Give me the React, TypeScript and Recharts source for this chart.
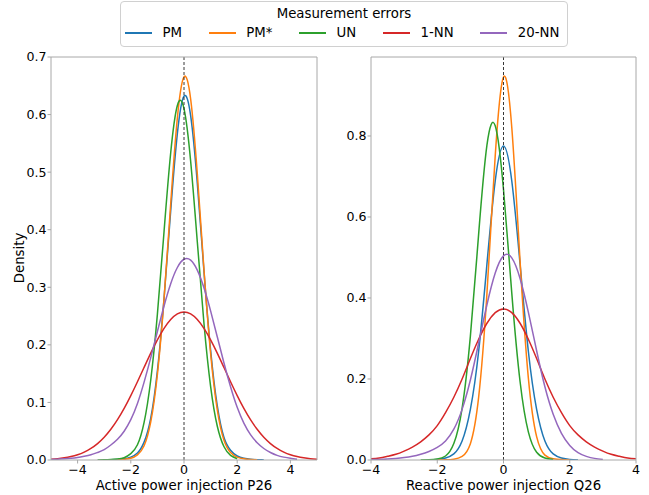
import React from 'react';
import { LineChart, Line, XAxis, YAxis, ReferenceLine } from 'recharts';

const N = null;

const seriesNames = ['PM', 'PM*', 'UN', '1-NN', '20-NN'];
const seriesKeys = ['pm', 'pmStar', 'un', 'nn1', 'nn20'];
const seriesColors = ['#1f77b4', '#ff7f0e', '#2ca02c', '#d62728', '#9467bd'];

const leftX = [-5, -4.75, -4.5, -4.25, -4, -3.75, -3.5, -3.25, -3, -2.75, -2.5, -2.25, -2, -1.75, -1.5, -1.25, -1, -0.75, -0.5, -0.25, 0, 0.25, 0.5, 0.75, 1, 1.25, 1.5, 1.75, 2, 2.25, 2.5, 2.75, 3, 3.25, 3.5, 3.75, 4, 4.25, 4.5, 4.75, 5];
const pmLeft = [N, N, N, N, N, N, N, N, 0.0002, 0.0005, 0.001, 0.002, 0.005, 0.012, 0.031, 0.0727, 0.155, 0.281, 0.433, 0.567, 0.632, 0.598, 0.481, 0.328, 0.191, 0.0943, 0.0396, 0.017, 0.007, 0.003, 0.0012, 0.0005, 0.0002, N, N, N, N, N, N, N, N];
const pmStarLeft = [N, N, N, N, N, N, N, N, 0.0001, 0.0002, 0.0005, 0.0012, 0.003, 0.009, 0.0248, 0.0662, 0.1485, 0.28, 0.445, 0.594, 0.6655, 0.627, 0.497, 0.331, 0.1854, 0.0874, 0.0346, 0.013, 0.005, 0.002, 0.0008, 0.0003, N, N, N, N, N, N, N, N, N];
const unLeft = [N, N, N, N, N, N, N, 0.0002, 0.0003, 0.0008, 0.0018, 0.004, 0.011, 0.0264, 0.0654, 0.139, 0.2534, 0.397, 0.5336, 0.6158, 0.6102, 0.519, 0.379, 0.2376, 0.128, 0.0591, 0.0235, 0.008, 0.0023, N, N, N, N, N, N, N, N, N, N, N, N];
const nn1Left = [0.0014, 0.0023, 0.0038, 0.006, 0.0092, 0.0138, 0.0201, 0.0285, 0.0395, 0.0533, 0.07, 0.0896, 0.1118, 0.1359, 0.1609, 0.1857, 0.2087, 0.2286, 0.244, 0.2537, 0.257, 0.2537, 0.244, 0.2286, 0.2087, 0.1857, 0.1609, 0.1359, 0.1118, 0.0896, 0.07, 0.0533, 0.0395, 0.0285, 0.0201, 0.0138, 0.0092, 0.006, 0.0038, 0.0023, 0.0014];
const nn20Left = [0.001, 0.0015, 0.002, 0.003, 0.0045, 0.0065, 0.009, 0.013, 0.018, 0.026, 0.036, 0.05, 0.07, 0.0981, 0.1352, 0.1778, 0.2232, 0.2676, 0.3062, 0.3344, 0.3487, 0.3471, 0.3298, 0.2991, 0.259, 0.2141, 0.169, 0.1273, 0.0915, 0.064, 0.044, 0.03, 0.02, 0.013, 0.008, 0.005, 0.003, 0.0015, N, N, N];

const rightX = [-4, -3.75, -3.5, -3.25, -3, -2.75, -2.5, -2.25, -2, -1.75, -1.5, -1.25, -1, -0.75, -0.5, -0.25, 0, 0.25, 0.5, 0.75, 1, 1.25, 1.5, 1.75, 2, 2.25, 2.5, 2.75, 3, 3.25, 3.5, 3.75, 4];
const pmRight = [N, N, N, N, N, N, N, 0.0003, 0.0015, 0.005, 0.015, 0.047, 0.125, 0.2685, 0.4838, 0.6889, 0.775, 0.6889, 0.4838, 0.2685, 0.125, 0.047, 0.015, 0.005, 0.0015, 0.0003, N, N, N, N, N, N, N];
const pmStarRight = [N, N, N, N, N, N, N, N, 0.0001, 0.0005, 0.002, 0.009, 0.0404, 0.1552, 0.4111, 0.7508, 0.9455, 0.8209, 0.4914, 0.2029, 0.0577, 0.012, 0.003, 0.001, 0.0003, N, N, N, N, N, N, N, N];
const unRight = [N, N, N, N, N, N, 0.0002, 0.0008, 0.0025, 0.0099, 0.0406, 0.1277, 0.3057, 0.5584, 0.7774, 0.8252, 0.6678, 0.4121, 0.1938, 0.0695, 0.019, 0.005, 0.0015, N, N, N, N, N, N, N, N, N, N];
const nn1Right = [0.003, 0.005, 0.009, 0.014, 0.022, 0.032, 0.045, 0.062, 0.085, 0.117, 0.155, 0.2001, 0.2504, 0.2981, 0.3376, 0.3638, 0.373, 0.3638, 0.3376, 0.2981, 0.2504, 0.2001, 0.155, 0.117, 0.085, 0.062, 0.045, 0.032, 0.022, 0.014, 0.009, 0.005, 0.003];
const nn20Right = [0.001, 0.0015, 0.0025, 0.004, 0.006, 0.009, 0.014, 0.021, 0.031, 0.047, 0.076, 0.125, 0.1974, 0.2888, 0.3834, 0.4616, 0.504, 0.4992, 0.4483, 0.3652, 0.2698, 0.1808, 0.113, 0.066, 0.036, 0.018, 0.009, 0.004, 0.0015, N, N, N, N];

const leftXTicks = [-4, -2, 0, 2, 4];
const rightXTicks = [-4, -2, 0, 2, 4];
const leftYTicks = [0, 0.1, 0.2, 0.3, 0.4, 0.5, 0.6, 0.7];
const rightYTicks = [0, 0.2, 0.4, 0.6, 0.8];

const buildRows = (xs: number[], cols: (number | null)[][]) =>
  xs.map((x, i) => {
    const row: Record<string, number | null> = { x };
    seriesKeys.forEach((k, j) => {
      row[k] = cols[j][i];
    });
    return row;
  });

const leftRows = buildRows(leftX, [pmLeft, pmStarLeft, unLeft, nn1Left, nn20Left]);
const rightRows = buildRows(rightX, [pmRight, pmStarRight, unRight, nn1Right, nn20Right]);

const FONT = '"DejaVu Sans", sans-serif';
const SPINE = '#a8a8a8';

const fmtX = (v: number) => (v < 0 ? `\u2212${Math.abs(v)}` : `${v}`);
const fmtY = (v: number) => v.toFixed(1);

type PanelProps = {
  rows: Record<string, number | null>[];
  xDomain: [number, number];
  xTicks: number[];
  yDomain: [number, number];
  yTicks: number[];
  xLabel: string;
  left: number;
  width: number;
};

function Panel({ rows, xDomain, xTicks, yDomain, yTicks, xLabel, left, width }: PanelProps) {
  return (
    <div style={{ position: 'absolute', left, top: 0 }}>
      <LineChart
        width={width}
        height={495}
        data={rows}
        margin={{ top: 57, right: 13, bottom: 0, left: 0 }}
      >
        <XAxis
          dataKey="x"
          type="number"
          domain={xDomain}
          ticks={xTicks}
          allowDataOverflow
          tickFormatter={fmtX}
          height={35}
          stroke={SPINE}
          tickSize={3.5}
          tickMargin={1.5}
          tick={{ fill: '#000', fontSize: 12.6, fontFamily: FONT }}
          label={{ value: xLabel, position: 'insideBottom', offset: 5.5, fill: '#000', fontSize: 13.3, fontFamily: FONT }}
        />
        <YAxis
          type="number"
          domain={yDomain}
          ticks={yTicks}
          allowDataOverflow
          tickFormatter={fmtY}
          width={51}
          stroke={SPINE}
          tickSize={3.5}
          tickMargin={1}
          tick={{ fill: '#000', fontSize: 12.6, fontFamily: FONT }}
        />
        {seriesKeys.map((k, j) => (
          <Line
            key={k}
            dataKey={k}
            name={seriesNames[j]}
            type="natural"
            stroke={seriesColors[j]}
            strokeWidth={1.5}
            dot={false}
            activeDot={false}
            isAnimationActive={false}
            connectNulls={false}
          />
        ))}
        <ReferenceLine x={0} stroke="#222" strokeWidth={0.9} strokeDasharray="3 2" />
        <ReferenceLine y={yDomain[1]} stroke={SPINE} strokeWidth={1} />
        <ReferenceLine x={xDomain[1]} stroke={SPINE} strokeWidth={1} />
      </LineChart>
    </div>
  );
}

function Legend() {
  return (
    <div
      style={{
        position: 'absolute',
        left: 120,
        top: 1,
        width: 448,
        height: 46,
        boxSizing: 'border-box',
        border: '1px solid #d0d0d0',
        borderRadius: 4,
        background: '#fff',
        fontFamily: FONT,
        fontSize: 13.3,
        color: '#000',
      }}
    >
      <div style={{ position: 'absolute', top: 4, left: 0, right: 0, textAlign: 'center', lineHeight: '16px' }}>
        Measurement errors
      </div>
      <div style={{ position: 'absolute', top: 23, left: 4, display: 'flex', alignItems: 'center', gap: 26.6, lineHeight: '16px', whiteSpace: 'nowrap' }}>
        {seriesNames.map((n, j) => (
          <div key={n} style={{ display: 'flex', alignItems: 'center' }}>
            <div style={{ width: 27, height: 2, background: seriesColors[j], marginRight: 10.6 }} />
            <span>{n}</span>
          </div>
        ))}
      </div>
    </div>
  );
}

export default function App() {
  return (
    <div style={{ position: 'fixed', left: 0, top: 0, width: 649, height: 495, background: '#fff', fontFamily: FONT, overflow: 'hidden' }}>
      <Panel
        rows={leftRows}
        xDomain={[-5, 5]}
        xTicks={leftXTicks}
        yDomain={[0, 0.7]}
        yTicks={leftYTicks}
        xLabel="Active power injection P26"
        left={0}
        width={330}
      />
      <Panel
        rows={rightRows}
        xDomain={[-4, 4]}
        xTicks={rightXTicks}
        yDomain={[0, 0.995]}
        yTicks={rightYTicks}
        xLabel="Reactive power injection Q26"
        left={320}
        width={329}
      />
      <div
        style={{
          position: 'absolute',
          left: 19,
          top: 258,
          transform: 'translate(-50%, -50%) rotate(-90deg)',
          fontSize: 13.3,
          fontFamily: FONT,
          color: '#000',
          whiteSpace: 'nowrap',
        }}
      >
        Density
      </div>
      <Legend />
    </div>
  );
}
